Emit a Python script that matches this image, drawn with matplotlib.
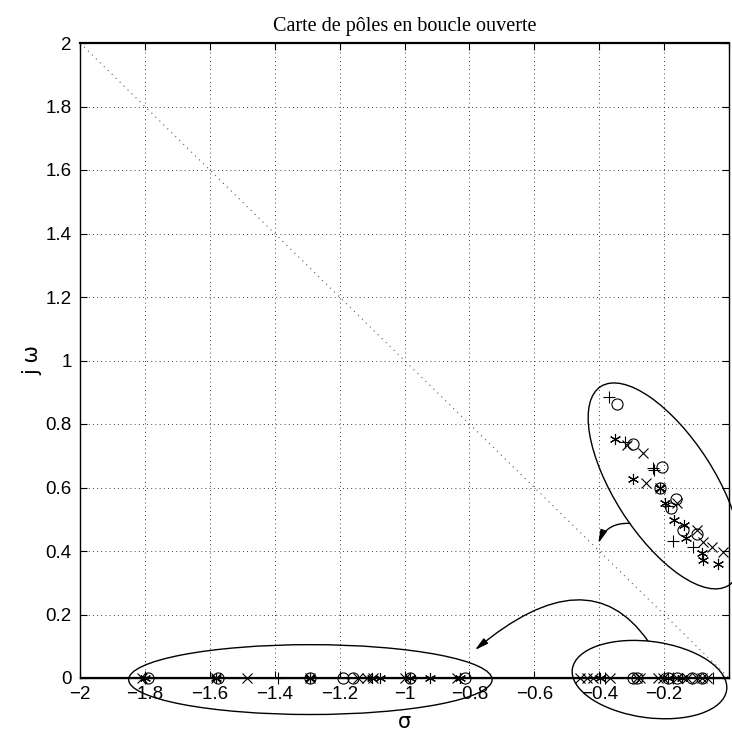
import matplotlib
matplotlib.use('Agg')
import matplotlib.pyplot as plt
from matplotlib.patches import Ellipse

# pôles complexes (partie supérieure), par type de marqueur
plus_re = [-0.369, -0.320, -0.235, -0.230, -0.187, -0.172, -0.112]
plus_im = [0.884, 0.744, 0.660, 0.655, 0.542, 0.431, 0.414]
circ_re = [-0.344, -0.297, -0.207, -0.213, -0.163, -0.180, -0.143, -0.098]
circ_im = [0.863, 0.737, 0.664, 0.597, 0.563, 0.534, 0.466, 0.454]
star_re = [-0.351, -0.297, -0.213, -0.197, -0.169, -0.139, -0.133, -0.084, -0.079, -0.033]
star_im = [0.753, 0.626, 0.597, 0.550, 0.498, 0.482, 0.440, 0.393, 0.372, 0.359]
cross_re = [-0.315, -0.264, -0.256, -0.213, -0.161, -0.100, -0.081, -0.053, -0.020]
cross_im = [0.734, 0.710, 0.613, 0.597, 0.550, 0.466, 0.429, 0.414, 0.398]

# pôles réels
cross_real = [-1.81, -1.58, -1.486, -1.29, -1.142, -1.116, -1.096, -0.998, -0.839,
              -0.459, -0.439, -0.418, -0.367, -0.285, -0.274, -0.218, -0.202,
              -0.161, -0.130, -0.100, -0.084, -0.069]
star_real = [-1.80, -1.58, -1.29, -1.10, -1.075, -0.983, -0.921, -0.829,
             -0.398, -0.187, -0.146]
circ_real = [-1.79, -1.575, -1.29, -1.189, -1.158, -0.983, -0.814,
             -0.295, -0.285, -0.187, -0.161, -0.115, -0.084]
plus_real = [-1.80, -1.389, -0.382, -0.172, -0.048]

xticks = [-2, -1.8, -1.6, -1.4, -1.2, -1, -0.8, -0.6, -0.4, -0.2, 0]
yticks = [0, 0.2, 0.4, 0.6, 0.8, 1, 1.2, 1.4, 1.6, 1.8, 2]

plt.rcParams['font.family'] = ['Liberation Sans', 'DejaVu Sans']

fig = plt.figure(figsize=(7.32, 7.47), dpi=100)
ax = fig.add_axes([80 / 732, 1 - 678 / 747, 649 / 732, 635 / 747])

# ligne diagonale (amortissement)
ax.plot([-2, 0], [2, 0], linestyle=(0, (1, 4)), color='0.35', linewidth=0.8)
ax.axhline(0, color='black', linewidth=1.6)

mk = dict(color='black', linestyle='none', markersize=8, markeredgewidth=0.8)
ax.plot(plus_re, plus_im, marker='+', **mk)
ax.plot(circ_re, circ_im, marker='o', fillstyle='none', **mk)
ax.plot(star_re, star_im, marker=(6, 2, 0), **mk)
ax.plot(cross_re, cross_im, marker='x', markersize=7, markeredgewidth=0.8,
        color='black', linestyle='none')

zeros = lambda v: [0] * len(v)
ax.plot(cross_real, zeros(cross_real), marker='x', markersize=7, markeredgewidth=0.8,
        color='black', linestyle='none', clip_on=False)
ax.plot(star_real, zeros(star_real), marker=(6, 2, 0), clip_on=False, **mk)
ax.plot(circ_real, zeros(circ_real), marker='o', fillstyle='none', clip_on=False, **mk)
ax.plot(plus_real, zeros(plus_real), marker='+', clip_on=False, **mk)

# ellipses entourant les groupes
ax.add_patch(Ellipse((-0.198, 0.605), 0.74, 0.31, angle=-58, fill=False,
                     edgecolor='black', linewidth=1.0, clip_on=False))
ax.add_patch(Ellipse((-1.29, -0.005), 1.12, 0.22, angle=0, fill=False,
                     edgecolor='black', linewidth=1.0, clip_on=False))
ax.add_patch(Ellipse((-0.245, -0.005), 0.48, 0.24, angle=-8, fill=False,
                     edgecolor='black', linewidth=1.0, clip_on=False))

arrow = dict(arrowstyle='-|>,head_length=0.8,head_width=0.2', color='black',
             linewidth=1.0, shrinkA=0, shrinkB=0)
ax.annotate('', xy=(-0.403, 0.424), xytext=(-0.305, 0.487),
            arrowprops=dict(connectionstyle='arc3,rad=0.35', **arrow))
ax.annotate('', xy=(-0.783, 0.088), xytext=(-0.25, 0.117),
            arrowprops=dict(connectionstyle='angle3,angleA=125,angleB=40', **arrow))

ax.set_xlim(-2, 0)
ax.set_ylim(0, 2)
ax.set_xticks(xticks)
ax.set_yticks(yticks)
xlabels = [f'{t:g}'.replace('-', '\u2212') for t in xticks]
xlabels[-1] = ''
ax.set_xticklabels(xlabels)
ax.set_yticklabels([f'{t:g}' for t in yticks])
ax.tick_params(direction='in', length=5, width=0.8, top=True, right=True,
               labelsize=13.5, pad=6)
ax.grid(True, color='black', linestyle=(0, (1, 4)), linewidth=0.6)
for s in ax.spines.values():
    s.set_linewidth(1.0)
ax.spines['top'].set_linewidth(1.6)

ax.set_title('Carte de pôles en boucle ouverte', fontsize=14.5,
             family='Liberation Serif', pad=9)
ax.set_xlabel('σ', fontsize=15, family='DejaVu Sans', labelpad=6)
ax.set_ylabel('j ω', fontsize=15, family='DejaVu Sans', labelpad=2)

fig.savefig('out.png', dpi=100)
